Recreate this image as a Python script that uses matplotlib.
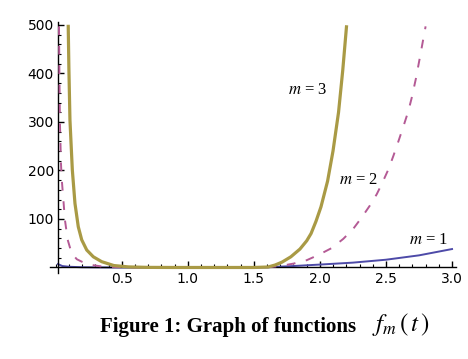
import matplotlib
matplotlib.use("Agg")
import matplotlib.pyplot as plt
from matplotlib.ticker import MultipleLocator

# values
t_m1 = [0.017, 0.05, 0.1, 0.2, 0.4, 0.8, 1.2, 1.6, 1.8, 2.0, 2.25, 2.5, 2.75, 3.0]
f_m1 = [7, 3, 1.5, 0.5, 0, 0, 0, 0.5, 3, 6, 10, 16, 25, 38]

t_m2 = [0.025, 0.028, 0.032, 0.04, 0.045, 0.058, 0.07, 0.091, 0.121, 0.16, 0.197,
        0.25, 0.35, 0.5, 0.7, 1.0, 1.3, 1.5, 1.6, 1.7, 1.8, 1.9, 1.99, 2.089,
        2.177, 2.253, 2.316, 2.379, 2.43, 2.468, 2.518, 2.556, 2.594, 2.631, 2.67,
        2.695, 2.727, 2.758, 2.80]
f_m2 = [497, 400, 300, 215, 185, 140, 98, 57, 29, 17, 12,
        6, 2, 0.4, 0, 0, 0, 0.1, 0.5, 3, 8, 15, 26, 40,
        59, 80, 103, 128, 151, 172, 202, 230, 260, 290, 323,
        350, 390, 435, 497]

t_m3 = [0.095, 0.1, 0.108, 0.126, 0.146, 0.171, 0.197, 0.235, 0.285, 0.348, 0.44,
        0.55, 0.7, 0.9, 1.2, 1.5, 1.607, 1.66, 1.713, 1.78, 1.849, 1.9, 1.933,
        1.97, 2.008, 2.058, 2.099, 2.141, 2.173, 2.201]
f_m3 = [497, 410, 304, 201, 132, 84, 57, 36, 22, 12, 4,
        1.2, 0.2, 0, 0, 0, 1, 5, 11, 22, 38, 55, 70,
        95, 125, 178, 240, 320, 407, 496]

labels = ["$m$ = 1", "$m$ = 2", "$m$ = 3"]
label_pos = [(2.82, 57), (2.29, 180), (1.91, 366)]

plt.rcParams["mathtext.fontset"] = "stix"

fig = plt.figure(figsize=(4.68, 3.59), dpi=100)
ax = fig.add_axes([50 / 468, 1 - 275 / 359, 406 / 468, 253 / 359])

ax.plot(t_m1, f_m1, color="#4d4aa8", lw=1.4, zorder=2, solid_joinstyle="round")
ax.plot(t_m2, f_m2, color="#b45a95", lw=1.4, dashes=(4.5, 5.5), zorder=3)
ax.plot(t_m3, f_m3, color="#a99a45", lw=2.3, zorder=4, solid_joinstyle="round")

for txt, (x, y) in zip(labels, label_pos):
    ax.text(x, y, txt, ha="center", va="center", fontsize=12,
            family="Liberation Serif")

ax.set_xlim(-0.043, 3.03)
ax.set_ylim(-15.5, 506)

ax.spines["top"].set_visible(False)
ax.spines["right"].set_visible(False)
ax.spines["left"].set_position(("data", 0.017))
ax.spines["bottom"].set_position(("data", 0))
ax.spines["left"].set_bounds(-11, 505)
ax.spines["left"].set_linewidth(1.0)
ax.spines["bottom"].set_linewidth(1.0)

ax.set_xticks([0.5, 1.0, 1.5, 2.0, 2.5, 3.0])
ax.set_xticklabels(["0.5", "1.0", "1.5", "2.0", "2.5", "3.0"])
ax.set_yticks([100, 200, 300, 400, 500])
ax.set_yticklabels(["100", "200", "300", "400", "500"])
ax.xaxis.set_minor_locator(MultipleLocator(0.1))
ax.yaxis.set_minor_locator(MultipleLocator(20))
ax.tick_params(which="major", direction="in", length=4.5, width=1.0,
               labelsize=10, pad=3)
ax.tick_params(which="minor", direction="in", length=2.5, width=0.8)

fig.text(100 / 468, 1 - 327 / 359, "Figure 1: Graph of functions",
         ha="left", va="center", fontsize=15, fontweight="bold",
         family="Liberation Serif")
fig.text(372 / 468, 1 - 325 / 359, r"$f_m\,\left(\,t\,\right)$",
         ha="left", va="center", fontsize=18)

fig.savefig("out.png", dpi=100)
